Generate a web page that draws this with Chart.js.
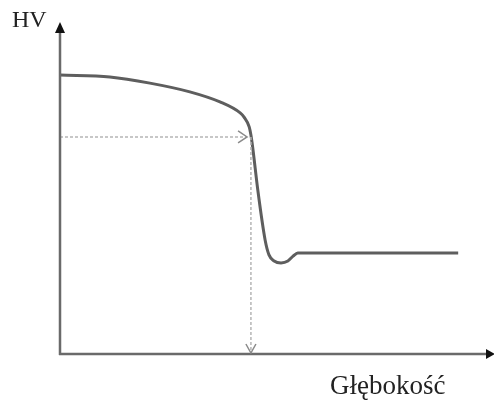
<!DOCTYPE html>
<html>
<head>
<meta charset="utf-8">
<script src="https://cdn.jsdelivr.net/npm/chart.js@4"></script>
<style>
html,body{margin:0;padding:0;background:#fff;}
#wrap{width:494px;height:401px;position:relative;}
</style>
</head>
<body>
<div id="wrap"><canvas id="c" width="494" height="401"></canvas></div>
<script>
// Hardness profile (depth on x, HV on y) (arbitrary units 0-100)
const depth = [0, 11.6, 20.9, 30.2, 37.2, 41.9, 42.8, 44.0, 44.4, 44.8, 46.0, 47.7, 48.6, 49.8, 51.4, 53.0, 54.2, 55.3, 92.6];
const hv    = [86.1, 85.5, 83.6, 80.9, 77.8, 74.4, 73.1, 70.1, 67.6, 63.9, 50.6, 35.2, 30.6, 28.7, 28.1, 28.7, 30.2, 31.2, 31.2];
// Reference (dotted) guide: hardness level and corresponding depth
const guideHV = [67, 67];
const guideHVx = [0, 43.5];
const guideDepthX = [44.4, 44.4];
const guideDepthY = [67, 0];
const xTitle = 'Głębokość';
const yTitle = 'HV';

const curve = depth.map((x, i) => ({x, y: hv[i]}));
const hGuide = guideHVx.map((x, i) => ({x, y: guideHV[i]}));
const vGuide = guideDepthX.map((x, i) => ({x, y: guideDepthY[i]}));

const decor = {
  id: 'decor',
  afterDatasetsDraw(chart) {
    const ctx = chart.ctx;
    const xs = chart.scales.x, ys = chart.scales.y;
    const x0 = xs.getPixelForValue(0), y0 = ys.getPixelForValue(0);
    const xEnd = xs.getPixelForValue(100), yTop = ys.getPixelForValue(100);
    ctx.save();
    // axes
    ctx.strokeStyle = '#6a6a6a';
    ctx.lineWidth = 2.5;
    ctx.beginPath();
    ctx.moveTo(x0, y0 + 1);
    ctx.lineTo(x0, yTop - 2);
    ctx.moveTo(x0 - 1, y0);
    ctx.lineTo(xEnd, y0);
    ctx.stroke();
    ctx.fillStyle = '#111';
    ctx.beginPath();
    ctx.moveTo(x0, yTop - 8);
    ctx.lineTo(x0 - 5, yTop + 3);
    ctx.lineTo(x0 + 5, yTop + 3);
    ctx.closePath();
    ctx.fill();
    ctx.beginPath();
    ctx.moveTo(xEnd + 5, y0);
    ctx.lineTo(xEnd - 4, y0 - 5);
    ctx.lineTo(xEnd - 4, y0 + 5);
    ctx.closePath();
    ctx.fill();
    // guide arrowheads
    ctx.strokeStyle = '#8a8a8a';
    ctx.lineWidth = 1.5;
    const hx = xs.getPixelForValue(guideHVx[1]), hy = ys.getPixelForValue(guideHV[1]);
    ctx.beginPath();
    ctx.moveTo(hx - 9, hy - 6);
    ctx.lineTo(hx, hy);
    ctx.lineTo(hx - 9, hy + 6);
    ctx.stroke();
    const vx = xs.getPixelForValue(guideDepthX[1]), vy = ys.getPixelForValue(guideDepthY[1]);
    ctx.beginPath();
    ctx.moveTo(vx - 5, vy - 10);
    ctx.lineTo(vx, vy - 1);
    ctx.lineTo(vx + 5, vy - 10);
    ctx.stroke();
    // titles
    ctx.fillStyle = '#222';
    ctx.textBaseline = 'alphabetic';
    ctx.textAlign = 'left';
    ctx.font = '24px "Liberation Serif", "Times New Roman", serif';
    ctx.fillText(yTitle, 12, 27);
    ctx.font = '27px "Liberation Serif", "Times New Roman", serif';
    ctx.fillText(xTitle, 330, 394);
    ctx.restore();
  }
};

new Chart(document.getElementById('c'), {
  type: 'scatter',
  data: {
    datasets: [
      { data: hGuide, showLine: true, borderColor: '#b5b5b5', borderWidth: 1.5, borderDash: [3, 2], pointRadius: 0, clip: false },
      { data: vGuide, showLine: true, borderColor: '#b5b5b5', borderWidth: 1.5, borderDash: [3, 2], pointRadius: 0, clip: false },
      { data: curve, showLine: true, borderColor: '#5e5e5e', borderWidth: 3, pointRadius: 0, cubicInterpolationMode: 'monotone', clip: false }
    ]
  },
  options: {
    responsive: false,
    animation: false,
    layout: { padding: { left: 60, top: 30, right: 4, bottom: 47 } },
    plugins: { legend: { display: false }, tooltip: { enabled: false } },
    scales: {
      x: { type: 'linear', min: 0, max: 100, display: false },
      y: { type: 'linear', min: 0, max: 100, display: false }
    }
  },
  plugins: [decor]
});
</script>
</body>
</html>
